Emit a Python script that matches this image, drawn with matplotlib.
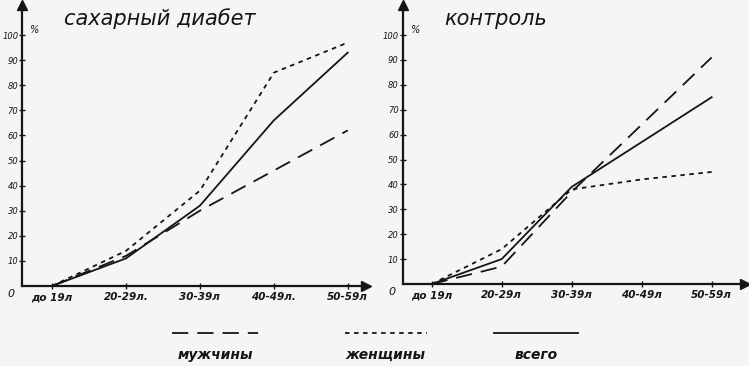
import matplotlib.pyplot as plt
from matplotlib.lines import Line2D

ages_left = ['до 19л', '20-29л.', '30-39л', '40-49л.', '50-59л']
ages_right = ['до 19л', '20-29л', '30-39л', '40-49л', '50-59л']
y_ticks = [10, 20, 30, 40, 50, 60, 70, 80, 90, 100]

# сахарный диабет
diab_men = [0, 12, 30, 46, 62]
diab_women = [0, 14, 38, 85, 97]
diab_all = [0, 11, 32, 66, 93]

# контроль
ctrl_men = [0, 7, 37, 64, 91]
ctrl_women = [0, 14, 38, 42, 45]
ctrl_all = [0, 10, 39, 57, 75]

INK = '#151515'
BG = '#f5f5f3'
plt.rcParams['font.family'] = ['DejaVu Sans']

fig = plt.figure(figsize=(7.49, 3.66), dpi=100, facecolor=BG)


def panel(rect, title, labels, men, women, total, xlim, title_x):
  ax = fig.add_axes(rect)
  ax.set_facecolor(BG)
  x = list(range(len(labels)))
  ax.plot(x, men, color=INK, lw=1.3, dashes=(9, 5))
  ax.plot(x, women, color=INK, lw=1.3, dashes=(2.5, 2.5))
  ax.plot(x, total, color=INK, lw=1.3)
  ax.set_xlim(*xlim)
  ax.set_ylim(0, 112)
  for s in ['top', 'right']:
    ax.spines[s].set_visible(False)
  for s in ['left', 'bottom']:
    ax.spines[s].set_color(INK)
    ax.spines[s].set_linewidth(1.6)
  ax.plot(0, 1, marker='^', ms=7, color=INK, transform=ax.transAxes, clip_on=False)
  ax.plot(1, 0, marker='>', ms=7, color=INK, transform=ax.transAxes, clip_on=False)
  ax.set_xticks(x)
  ax.set_xticklabels(labels, fontsize=7.5, style='italic', fontweight='bold', color=INK)
  ax.set_yticks(y_ticks)
  ax.set_yticklabels([str(v) for v in y_ticks], fontsize=6, style='italic', color=INK)
  ax.tick_params(axis='y', direction='inout', length=5, width=1, pad=0.5, colors=INK)
  ax.tick_params(axis='x', direction='inout', length=5, width=1, pad=2, colors=INK)
  ax.text(-0.022, -0.01, '0', transform=ax.transAxes, fontsize=8, style='italic',
          ha='right', va='top', color=INK)
  ax.text(0.02, 100, '%', transform=ax.get_yaxis_transform(), fontsize=7,
          style='italic', ha='left', va='bottom', color=INK)
  ax.text(title_x, 0.95, title, transform=ax.transAxes, fontsize=15,
          style='italic', ha='left', va='center', color=INK)
  return ax


panel([0.03, 0.2186, 0.458, 0.768], 'сахарный диабет', ages_left,
      diab_men, diab_women, diab_all, (-0.4, 4.24), 0.12)
panel([0.538, 0.224, 0.457, 0.762], 'контроль', ages_right,
      ctrl_men, ctrl_women, ctrl_all, (-0.41, 4.48), 0.12)

legend_items = [
  ('мужчины', (9, 5), 0.23, 0.345),
  ('женщины', (2.5, 2.5), 0.46, 0.57),
  ('всего', None, 0.66, 0.772),
]
for label, dash, x0, x1 in legend_items:
  line = Line2D([x0, x1], [0.09, 0.09], transform=fig.transFigure, color=INK, lw=1.3)
  if dash:
    line.set_dashes(dash)
  fig.add_artist(line)
  fig.text((x0 + x1) / 2, 0.03, label, fontsize=10, style='italic',
           fontweight='bold', ha='center', va='center', color=INK)

fig.savefig('out.png', dpi=100, facecolor=BG)
